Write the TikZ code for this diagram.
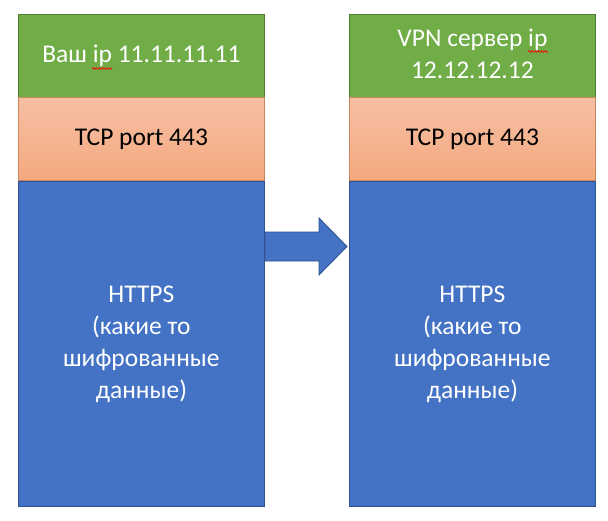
\documentclass[tikz,border=0pt]{standalone}
\usepackage{fontspec}
\setmainfont{Carlito}
\usetikzlibrary{decorations.pathmorphing}
\definecolor{grn}{HTML}{70AD47}
\definecolor{grnb}{HTML}{507E32}
\definecolor{orT}{HTML}{F7BFA3}
\definecolor{orB}{HTML}{F4A97F}
\definecolor{orb}{HTML}{C9875F}
\definecolor{blu}{HTML}{4472C4}
\definecolor{blub}{HTML}{2F528F}
\newcommand\boxtxt[1]{\raisebox{-2.5pt}{\begin{tabular}{@{}c@{}}#1\end{tabular}}}
\begin{document}
\begin{tikzpicture}[x=1pt,y=-1pt,
  box/.style={draw, line width=0.8pt, anchor=north west, minimum width=246pt,
    inner sep=0pt, font=\fontsize{25.5}{32}\selectfont},
  gbox/.style={box, fill=grn, draw=grnb, text=white, minimum height=83pt},
  obox/.style={box, top color=orT, bottom color=orB, draw=orb, text=black, minimum height=83pt},
  bbox/.style={box, fill=blu, draw=blub, text=white, minimum height=325pt},
  spell/.style={red, line width=0.7pt, decorate, decoration={snake, amplitude=0.9pt, segment length=3.2pt}}
]
\useasboundingbox (0,0) rectangle (608,520);
\fill[white] (0,0) rectangle (608,520);
% left column
\node[gbox] (lg) at (18,14) {\boxtxt{Ваш ip 11.11.11.11}};
\node[obox] (lo) at (18,97) {\boxtxt{TCP port 443}};
\node[bbox] (lb) at (18,181) {\boxtxt{HTTPS\\(какие то\\шифрованные\\данные)}};
% right column
\node[gbox] (rg) at (349,14) {\boxtxt{VPN сервер ip\\12.12.12.12}};
\node[obox] (ro) at (349,97) {\boxtxt{TCP port 443}};
\node[bbox] (rb) at (349,181) {\boxtxt{HTTPS\\(какие то\\шифрованные\\данные)}};
% block arrow
\draw[fill=blu, draw=blub, line width=0.8pt]
  (265,232) -- (319,232) -- (319,218) -- (347,246.5) -- (319,275) -- (319,261) -- (265,261) -- cycle;
% spell-check marks
\draw[spell] (92,68.5) -- (112,68.5);
\draw[spell] (528,51.5) -- (548,51.5);
\end{tikzpicture}
\end{document}
